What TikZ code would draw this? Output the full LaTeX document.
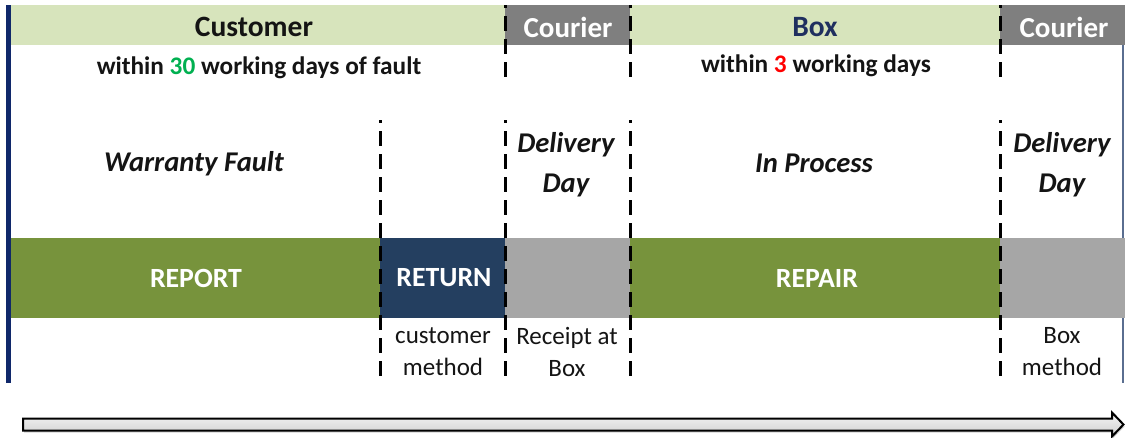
\documentclass[tikz,border=0pt]{standalone}
\usepackage{fontspec}
\setmainfont{Carlito}
\usetikzlibrary{shadows}
\definecolor{hdrgreen}{HTML}{D7E4BC}
\definecolor{courgray}{HTML}{7F7F7F}
\definecolor{bandgreen}{HTML}{77933C}
\definecolor{bandnavy}{HTML}{243F60}
\definecolor{bandgray}{HTML}{A6A6A6}
\definecolor{leftnavy}{HTML}{10286A}
\definecolor{rightline}{HTML}{5A6E90}
\definecolor{boxnavy}{HTML}{1F2F5F}
\definecolor{numgreen}{HTML}{00B050}
\definecolor{numred}{HTML}{FF0000}
\definecolor{txt}{HTML}{141414}
\begin{document}
\begin{tikzpicture}[x=1pt,y=-1pt,
  hdrtext/.style={font=\fontsize{29.5}{34}\selectfont\bfseries, text=txt, inner sep=0},
  courtext/.style={font=\fontsize{29}{34}\selectfont\bfseries, text=white, inner sep=0},
  subtext/.style={font=\fontsize{25.3}{30}\selectfont\bfseries, text=txt, inner sep=0},
  phasetext/.style={font=\fontsize{28.6}{40}\selectfont\bfseries\itshape, text=txt, inner sep=0, align=center},
  bandtext/.style={font=\fontsize{27.8}{32}\selectfont\bfseries, text=white, inner sep=0},
  notetext/.style={font=\fontsize{25}{32}\selectfont, text=txt, inner sep=0, align=center},
  divider/.style={line width=3pt, dash pattern=on 15pt off 8pt, dash phase=12pt},
]
\useasboundingbox (0,0) rectangle (1125,437);
% header band
\fill[hdrgreen] (11,5) rectangle (505,45);
\fill[courgray] (505,5) rectangle (630,45);
\fill[hdrgreen] (630,5) rectangle (1000,45);
\fill[courgray] (1000,5) rectangle (1125,45);
% phase band
\fill[bandgreen] (11,238) rectangle (380,318);
\fill[bandnavy] (380,238) rectangle (505,318);
\fill[bandgray] (505,238) rectangle (630,318);
\fill[bandgreen] (630,238) rectangle (1000,318);
\fill[bandgray] (1000,238) rectangle (1125,318);
% frame lines
\draw[leftnavy, line width=4.5pt] (8.5,5) -- (8.5,383);
\draw[rightline, line width=1.2pt] (1123,45) -- (1123,238);
\draw[rightline, line width=1.2pt] (1123,318) -- (1123,383);
% dividers
\draw[divider] (380,120) -- (380,383);
\draw[divider] (505,5) -- (505,80);
\draw[divider] (505,120) -- (505,383);
\draw[divider] (630,5) -- (630,80);
\draw[divider] (630,120) -- (630,383);
\draw[divider] (1000,5) -- (1000,80);
\draw[divider] (1000,120) -- (1000,383);
% header texts
\node[hdrtext] (customer) at (254,27) {Customer};
\node[courtext] (courier1) at (568,27) {Courier};
\node[hdrtext, text=boxnavy] (box) at (815,27) {Box};
\node[courtext] (courier2) at (1064,27) {Courier};
\node[subtext] (within30) at (259,68) {within \textcolor{numgreen}{30} working days of fault};
\node[subtext] (within3) at (816,66) {within \textcolor{numred}{3} working days};
% phase texts
\node[phasetext] (warranty) at (194,164) {Warranty Fault};
\node[phasetext] (delivery1) at (566,165) {Delivery\\Day};
\node[phasetext] (inprocess) at (814,163) {In Process};
\node[phasetext] (delivery2) at (1062,165) {Delivery\\Day};
% band texts
\node[bandtext] (report) at (196,278) {REPORT};
\node[bandtext] (return) at (444,278) {RETURN};
\node[bandtext] (repair) at (817,278) {REPAIR};
% notes
\node[notetext] (custmethod) at (443,352) {customer\\method};
\node[notetext] (receipt) at (567,352) {Receipt at\\Box};
\node[notetext] (boxmethod) at (1062,352) {Box\\method};
% time arrow
\draw[line width=2pt, top color=gray!8, bottom color=gray!38,
      drop shadow={shadow xshift=1pt, shadow yshift=-2pt, opacity=0.35}]
  (23,418.5) -- (1112,418.5) -- (1112,412.5) -- (1123.5,424.5) -- (1112,436.5)
  -- (1112,430.5) -- (23,430.5) -- cycle;
\end{tikzpicture}
\end{document}
